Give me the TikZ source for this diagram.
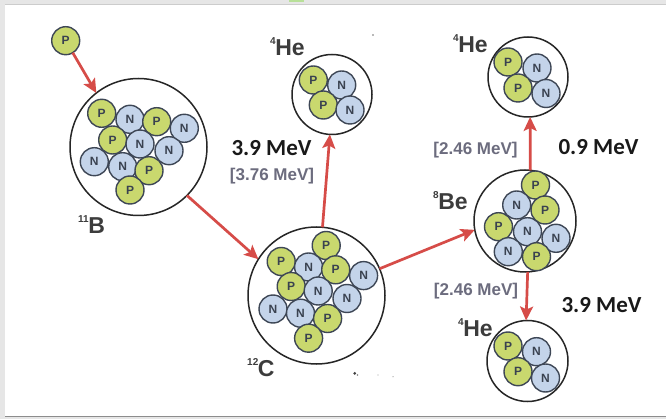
\documentclass[tikz,border=0pt]{standalone}
\usepackage{fontspec}
\setmainfont{Liberation Sans}
\newfontfamily\calib{Carlito}
\usetikzlibrary{arrows.meta}

\definecolor{pgreen}{HTML}{C9D86E}
\definecolor{nblue}{HTML}{C4D4EA}
\definecolor{nucrim}{HTML}{3E4756}
\definecolor{nuctext}{HTML}{3A4250}
\definecolor{arrowred}{HTML}{D64C48}
\definecolor{labgray}{HTML}{3C3C3C}
\definecolor{brgray}{HTML}{6C6C7E}
\definecolor{pagegray}{HTML}{E6E6E6}

\tikzset{
  nucleon/.style={circle, draw=nucrim, line width=1.4pt, minimum size=28pt,
    inner sep=0pt, outer sep=0pt, text=nuctext,
    font=\bfseries\fontsize{12}{12}\selectfont},
  proton/.style={nucleon, fill=pgreen},
  neutron/.style={nucleon, fill=nblue},
  nucleus/.style={circle, draw=black!85, line width=1.5pt, inner sep=0pt, outer sep=0pt},
  bignuc/.style={nucleus, minimum size=137pt},
  midnuc/.style={nucleus, minimum size=102pt},
  henuc/.style={nucleus, minimum size=80pt},
  flow/.style={draw=arrowred, line width=2.7pt,
    -{Stealth[length=14pt,width=13pt,inset=3pt]}},
  iso/.style={anchor=base west, inner sep=0pt, text=labgray,
    font=\bfseries\fontsize{23}{23}\selectfont},
  energy/.style={inner sep=0pt, text=black!90,
    font=\calib\bfseries\fontsize{23}{23}\selectfont},
  bracket/.style={inner sep=0pt, text=brgray,
    font=\bfseries\fontsize{17}{17}\selectfont},
}
\newcommand{\isotope}[2]{\raisebox{11pt}{\fontsize{10}{10}\selectfont #1}\kern-0.5pt#2}

\begin{document}
\begin{tikzpicture}[x=1pt,y=-1pt]
  % page and slide panel
  \fill[pagegray] (0,0) rectangle (666,419);
  \useasboundingbox (0,0) rectangle (666,419);
  \fill[white] (5,4.5) rectangle (666,416);
  \draw[black!20, line width=0.8pt] (5,4.5) -- (666,4.5);
  \draw[black!45, line width=1.2pt] (5,416.3) -- (666,416.3);
  \fill[green!40!olive!40] (289,0) rectangle (304,2.5);

  % incoming proton
  \node[proton] (p0) at (65.7,40.7) {P};

  % boron-11
  \node[bignuc] (nB) at (138.5,147) {};
  \node[proton]  (b1)  at (101.7,113.3) {P};
  \node[neutron] (b2)  at (130,119.3) {N};
  \node[proton]  (b3)  at (156.7,121.7) {P};
  \node[neutron] (b4)  at (184.3,128.3) {N};
  \node[proton]  (b5)  at (112.7,140) {P};
  \node[neutron] (b6)  at (140,144) {N};
  \node[neutron] (b7)  at (169,150.7) {N};
  \node[neutron] (b8)  at (94.3,161.7) {N};
  \node[neutron] (b9)  at (122.7,166.7) {N};
  \node[proton]  (b10) at (149,170.7) {P};
  \node[proton]  (b11) at (130,190) {P};
  \node[iso] (lB) at (78,234) {\isotope{11}{B}};

  % carbon-12
  \node[bignuc] (nC) at (316.5,295.5) {};
  \node[proton]  (c1)  at (326.2,245.5) {P};
  \node[proton]  (c2)  at (281.2,261.5) {P};
  \node[neutron] (c3)  at (308.6,267) {N};
  \node[proton]  (c4)  at (335.7,269.8) {P};
  \node[neutron] (c5)  at (363.6,275.6) {N};
  \node[proton]  (c6)  at (291.2,286.5) {P};
  \node[neutron] (c7)  at (318.2,291) {N};
  \node[neutron] (c8)  at (347,298.5) {N};
  \node[neutron] (c9)  at (273,309) {N};
  \node[neutron] (c10) at (300.5,313.2) {N};
  \node[proton]  (c11) at (327.6,318.5) {P};
  \node[proton]  (c12) at (308.6,338.2) {P};
  \node[iso] (lC) at (247,376) {\isotope{12}{C}};

  % helium-4 from carbon-12
  \node[henuc] (he1) at (332,94.5) {};
  \node[proton]  (h1a) at (313.3,80) {P};
  \node[neutron] (h1b) at (341.7,85) {N};
  \node[proton]  (h1c) at (323.3,105) {P};
  \node[neutron] (h1d) at (350,110) {N};
  \node[iso] (lHe1) at (270,56) {\isotope{4}{He}};

  % beryllium-8
  \node[midnuc] (nBe) at (525,221) {};
  \node[proton]  (e1) at (535.5,185) {P};
  \node[neutron] (e2) at (516.7,205) {N};
  \node[proton]  (e3) at (545,210) {P};
  \node[proton]  (e4) at (498.5,226.7) {P};
  \node[neutron] (e5) at (527.5,231.7) {N};
  \node[neutron] (e6) at (556,238.3) {N};
  \node[neutron] (e7) at (508.3,251.7) {N};
  \node[proton]  (e8) at (536.5,256.7) {P};
  \node[iso] (lBe) at (433,210) {\isotope{8}{Be}};

  % helium-4, upper branch
  \node[henuc] (he2) at (528,77) {};
  \node[proton]  (h2a) at (508,62) {P};
  \node[neutron] (h2b) at (537,68) {N};
  \node[proton]  (h2c) at (518,88) {P};
  \node[neutron] (h2d) at (546,93.5) {N};
  \node[iso] (lHe2) at (453,53) {\isotope{4}{He}};

  % helium-4, lower branch
  \node[henuc, minimum size=81pt] (he3) at (527.5,361) {};
  \node[proton]  (h3a) at (508,346) {P};
  \node[neutron] (h3b) at (536.5,351.7) {N};
  \node[proton]  (h3c) at (518,371.7) {P};
  \node[neutron] (h3d) at (545.5,378) {N};
  \node[iso] (lHe3) at (458,336) {\isotope{4}{He}};

  % reaction arrows
  \draw[flow] (p0) -- (nB.128);
  \draw[flow] (nB.-45) -- (nC.148);
  \draw[flow] (nC.85) -- (he1.-93);
  \draw[flow] (nC.23) -- (nBe.190);
  \draw[flow] (nBe.84) -- (he2.-87);
  \draw[flow] (nBe.-87) -- (he3.92);

  % energies
  \node[energy]  (E1) at (271.5,148.5) {3.9 MeV};
  \node[bracket] (E1b) at (272,176) {[3.76 MeV]};
  \node[bracket] (E2b) at (475.5,150) {[2.46 MeV]};
  \node[energy]  (E2) at (598.5,147.5) {0.9 MeV};
  \node[bracket] (E3b) at (476,291.5) {[2.46 MeV]};
  \node[energy]  (E3) at (601.5,305.5) {3.9 MeV};

  % specks on the sheet
  \fill[black!75] (354.7,373.3) circle (1.5pt);
  \fill[black!50] (357.5,375) circle (0.9pt);
  \fill[black!35] (378,375) circle (0.7pt);
  \fill[black!35] (393,376.7) circle (0.7pt);
  \fill[black!55] (373,35) circle (0.9pt);
\end{tikzpicture}
\end{document}
